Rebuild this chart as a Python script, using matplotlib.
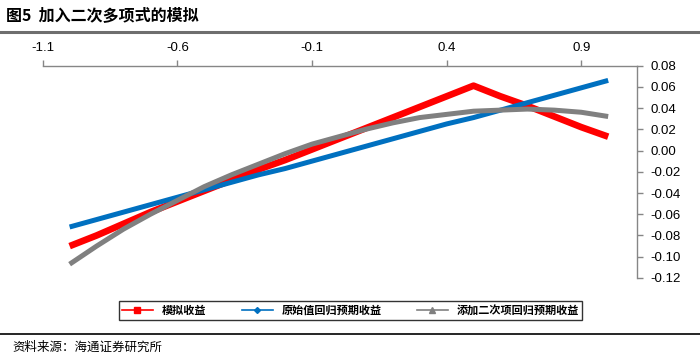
import matplotlib
matplotlib.use("Agg")
import matplotlib.pyplot as plt
from matplotlib.lines import Line2D

plt.rcParams['font.family'] = ['Liberation Sans', 'Noto Sans CJK SC', 'DejaVu Sans']

# data
x = [-1.0, -0.9, -0.8, -0.7, -0.6, -0.5, -0.4, -0.3, -0.2, -0.1, 0.0,
     0.1, 0.2, 0.3, 0.4, 0.5, 0.6, 0.7, 0.8, 0.9, 1.0]
sim = [-0.090, -0.080, -0.069, -0.058, -0.048, -0.038, -0.028, -0.018, -0.009, 0.001, 0.011,
       0.021, 0.031, 0.041, 0.051, 0.061, 0.051, 0.042, 0.032, 0.022, 0.013]
linear = [-0.072, -0.065, -0.058, -0.051, -0.044, -0.037, -0.030, -0.023, -0.017, -0.010, -0.003,
          0.004, 0.011, 0.018, 0.025, 0.031, 0.038, 0.045, 0.052, 0.059, 0.066]
quad = [-0.107, -0.090, -0.074, -0.060, -0.047, -0.034, -0.023, -0.013, -0.003, 0.006, 0.013,
        0.020, 0.026, 0.031, 0.034, 0.037, 0.038, 0.039, 0.038, 0.036, 0.032]
names = ['模拟收益', '原始值回归预期收益', '添加二次项回归预期收益']
colors = ['#FF0000', '#0070C0', '#808080']
xticks = [-1.1, -0.6, -0.1, 0.4, 0.9]
yticks = [0.08, 0.06, 0.04, 0.02, 0.00, -0.02, -0.04, -0.06, -0.08, -0.10, -0.12]

fig = plt.figure(figsize=(7, 3.57), dpi=100)
ax = fig.add_axes([0.061, 0.2213, 0.8486, 0.5952])

ax.plot(x, sim, color=colors[0], lw=4.8, solid_capstyle='butt', solid_joinstyle='round')
ax.plot(x, linear, color=colors[1], lw=3.6, solid_capstyle='butt')
ax.plot(x, quad, color=colors[2], lw=3.6, solid_capstyle='butt', solid_joinstyle='round')

ax.set_xlim(-1.1, 1.106)
ax.set_ylim(-0.12, 0.08)

# excel style: x axis on top, y axis on the right
for s in ['left', 'bottom']:
    ax.spines[s].set_visible(False)
for s in ['top', 'right']:
    ax.spines[s].set_color('#868686')
    ax.spines[s].set_linewidth(1.0)
ax.xaxis.tick_top()
ax.yaxis.tick_right()
ax.set_xticks(xticks)
ax.set_xticklabels(['%.1f' % v for v in xticks])
ax.set_yticks(yticks)
ax.set_yticklabels(['%.2f' % v for v in yticks])
ax.tick_params(axis='both', colors='#868686', labelcolor='black', labelsize=9.5,
               length=4, width=1.0, direction='out', pad=4)
ax.tick_params(axis='y', pad=6)

# legend
handles = [
    Line2D([], [], color=colors[0], lw=1.2, marker='s', markersize=4),
    Line2D([], [], color=colors[1], lw=1.2, marker='D', markersize=3),
    Line2D([], [], color=colors[2], lw=1.2, marker='^', markersize=4),
]
leg = fig.legend(handles, names, loc='center', ncol=3,
                 bbox_to_anchor=(113 / 700, 1 - 322 / 357, 475 / 700, 23 / 357),
                 mode='expand', fancybox=False, frameon=True, handlelength=2.8,
                 borderpad=0.3, prop={'family': ['Noto Sans CJK SC'], 'weight': 'bold', 'size': 8})
leg.get_frame().set_edgecolor('black')
leg.get_frame().set_linewidth(1.0)

# title, rules and source
fig.text(0.008, 1 - 16 / 357, '图5  加入二次多项式的模拟', fontsize=11.5, fontweight='bold',
         family=['Noto Sans CJK SC'], va='center', ha='left')
fig.add_artist(Line2D([0, 1], [1 - 32 / 357, 1 - 32 / 357], color='#6e6e6e', lw=2.2))
fig.add_artist(Line2D([0, 1], [1 - 334 / 357, 1 - 334 / 357], color='black', lw=1.2))
fig.text(0.018, 1 - 347 / 357, '资料来源：海通证券研究所', fontsize=9,
         family=['Noto Sans CJK SC'], va='center', ha='left')

fig.savefig('out.png', dpi=100)
